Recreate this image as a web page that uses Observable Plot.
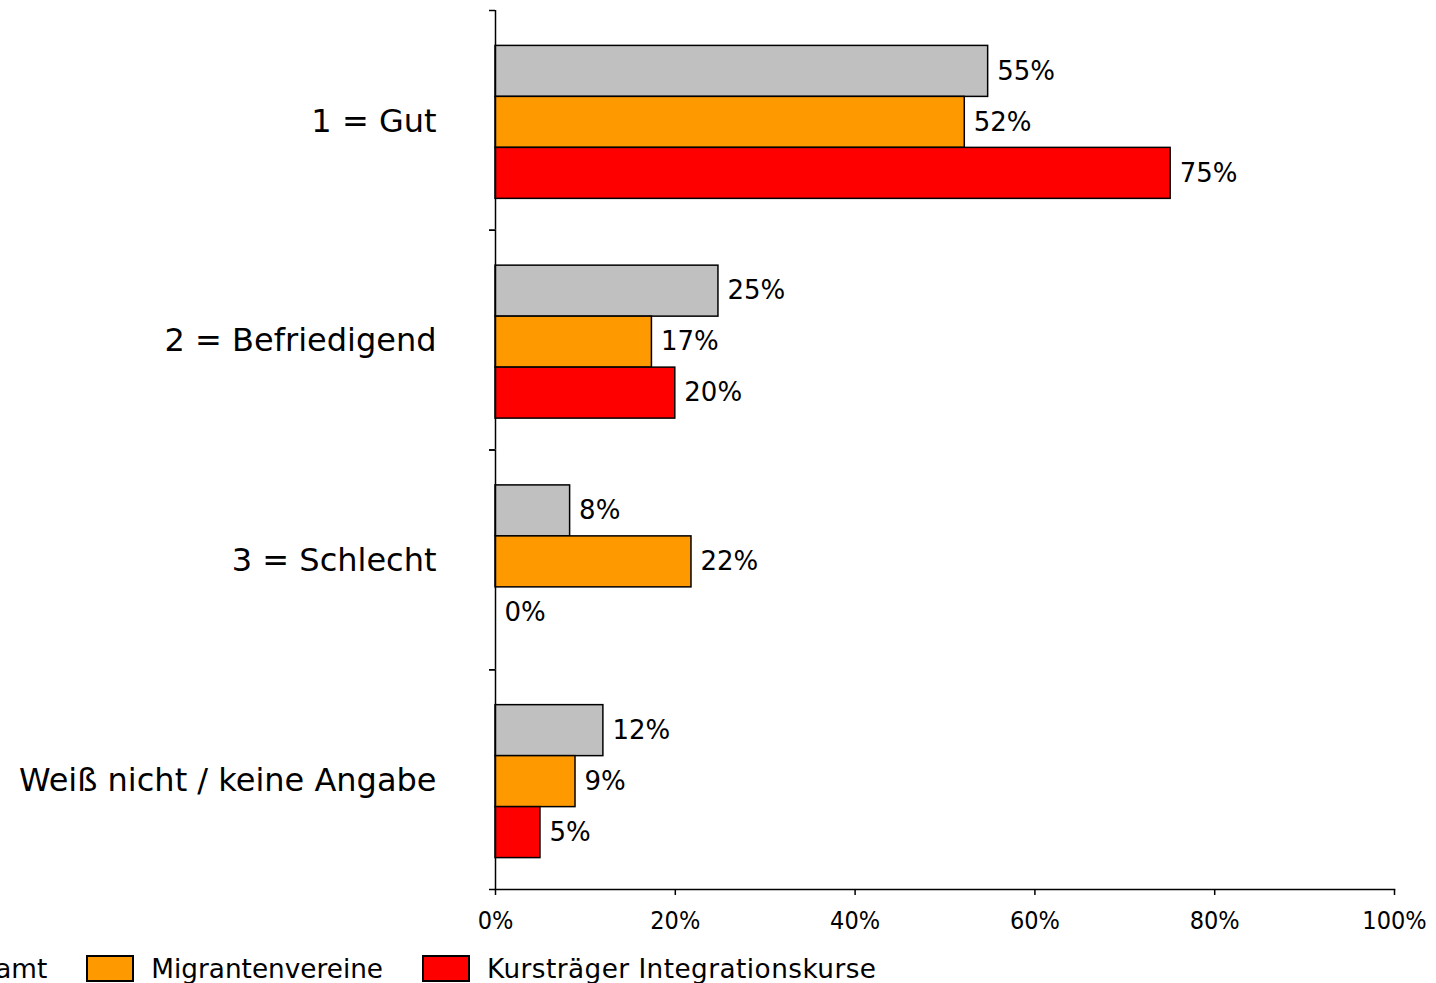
<!DOCTYPE html>
<html>
<head>
<meta charset="utf-8">
<script src="https://cdn.jsdelivr.net/npm/d3@7"></script>
<script src="https://cdn.jsdelivr.net/npm/@observablehq/plot@0.6"></script>
<style>
  html, body { margin: 0; padding: 0; background: #fff; overflow: hidden; width: 1436px; height: 983px; }
  #chart svg { display: block; }
  #chart [aria-label="x-axis tick label"] { font-family: "DejaVu Sans Condensed", "DejaVu Sans", sans-serif; font-stretch: condensed; }
  .legend { display: flex; align-items: center; margin-left: -120px; margin-top: 15px; height: 27px;
    font-family: "DejaVu Sans", Verdana, sans-serif; font-size: 26.3px; white-space: nowrap; color: #000; }
  .legend .item { display: flex; align-items: center; margin-right: 39px; }
  .legend .item:last-child span { letter-spacing: 0.45px; }
  .legend .sw { width: 44px; height: 23px; border: 2px solid #000; margin-right: 17px; }
</style>
</head>
<body>
<div id="chart"></div>
<script>
const categories = ["1 = Gut", "2 = Befriedigend", "3 = Schlecht", "Weiß nicht / keine Angabe"];
const seriesNames = ["Gesamt", "Migrantenvereine", "Kursträger Integrationskurse"];
const seriesColors = ["#c0c0c0", "#ff9900", "#ff0000"];
const gesamt = [54.8, 24.8, 8.3, 12.0];
const migrantenvereine = [52.2, 17.4, 21.8, 8.9];
const kurstraeger = [75.1, 20.0, 0, 5.0];
const xTicks = [0, 20, 40, 60, 80, 100];

const seriesValues = [gesamt, migrantenvereine, kurstraeger];
const data = [];
categories.forEach((c, i) => {
  seriesNames.forEach((s, j) => {
    data.push({category: c, series: s, value: seriesValues[j][i]});
  });
});

const W = 1436, H = 940, mTop = 10, mBottom = 51;
const halfBand = (H - mTop - mBottom) / categories.length / 2;

const chart = Plot.plot({
  width: W,
  height: H,
  marginLeft: 495,
  marginRight: 42,
  marginTop: mTop,
  marginBottom: mBottom,
  style: {fontFamily: "'DejaVu Sans', Verdana, sans-serif", background: "#fff", color: "#000"},
  x: {domain: [0, 100]},
  y: {domain: seriesNames, paddingInner: 0, paddingOuter: 0.655, align: 0.53, round: false, axis: null},
  fy: {domain: categories, padding: 0, round: false},
  color: {domain: seriesNames, range: seriesColors},
  marks: [
    Plot.barX(data, {x: "value", y: "series", fy: "category", fill: "series", stroke: "#000", strokeWidth: 1.5}),
    Plot.text(data, {x: "value", y: "series", fy: "category", text: d => Math.round(d.value) + "%",
      textAnchor: "start", dx: 9, fontSize: 26, fill: "#000"}),
    Plot.ruleX([0], {stroke: "#000", strokeWidth: 1.5}),
    Plot.frame({anchor: "bottom", facetAnchor: "bottom", stroke: "#000", strokeWidth: 1.5}),
    Plot.axisFy({anchor: "left", tickSize: 0, tickPadding: 59, fontSize: 32, label: null, dy: 1}),
    Plot.axisFy({anchor: "left", tickSize: 6, tickFormat: () => "", label: null, dy: -halfBand, strokeWidth: 1.5}),
    Plot.axisFy({anchor: "left", tickSize: 6, tickFormat: () => "", label: null, dy: halfBand, strokeWidth: 1.5}),
    Plot.axisX({ticks: xTicks, tickFormat: d => d + "%", tickSize: 6, tickPadding: 16, fontSize: 25, label: null, strokeWidth: 1.5})
  ]
});
document.getElementById("chart").appendChild(chart);

const legend = document.createElement("div");
legend.className = "legend";
seriesNames.forEach((s, i) => {
  const item = document.createElement("div");
  item.className = "item";
  const sw = document.createElement("div");
  sw.className = "sw";
  sw.style.background = seriesColors[i];
  const t = document.createElement("span");
  t.textContent = s;
  item.appendChild(sw);
  item.appendChild(t);
  legend.appendChild(item);
});
document.body.appendChild(legend);
</script>
</body>
</html>
